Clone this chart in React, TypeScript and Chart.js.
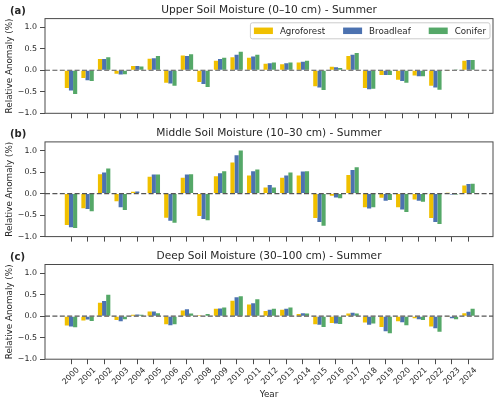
import React, { useEffect, useRef } from 'react';
import { Chart, registerables } from 'chart.js';

Chart.register(...registerables);

// ---- data -------------------------------------------------------------
const years = [
  2000, 2001, 2002, 2003, 2004, 2005, 2006, 2007, 2008, 2009, 2010, 2011, 2012,
  2013, 2014, 2015, 2016, 2017, 2018, 2019, 2020, 2021, 2022, 2023, 2024,
];
const seriesNames = ['Agroforest', 'Broadleaf', 'Conifer'];
const seriesColors = ['#F0C000', '#4C72B0', '#55A868'];
const yTickValues = [-1.0, -0.5, 0.0, 0.5, 1.0];

const upperAgroforest = [-0.41, -0.18, 0.26, -0.08, 0.10, 0.27, -0.29, 0.34, -0.27, 0.22, 0.30, 0.29, 0.15, 0.14, 0.18, -0.37, 0.08, 0.33, -0.41, -0.11, -0.22, -0.12, -0.36, -0.02, 0.22];
const upperBroadleaf = [-0.47, -0.23, 0.26, -0.10, 0.10, 0.28, -0.31, 0.33, -0.32, 0.26, 0.36, 0.32, 0.16, 0.16, 0.20, -0.40, 0.07, 0.36, -0.44, -0.11, -0.25, -0.14, -0.40, 0.01, 0.24];
const upperConifer = [-0.55, -0.25, 0.30, -0.09, 0.09, 0.33, -0.36, 0.37, -0.39, 0.29, 0.43, 0.36, 0.18, 0.18, 0.22, -0.46, 0.05, 0.40, -0.43, -0.11, -0.29, -0.14, -0.45, 0.02, 0.24];

const middleAgroforest = [-0.73, -0.34, 0.45, -0.18, 0.04, 0.39, -0.56, 0.37, -0.52, 0.40, 0.72, 0.42, 0.14, 0.37, 0.42, -0.57, -0.05, 0.43, -0.32, -0.10, -0.32, -0.14, -0.57, 0.02, 0.19];
const middleBroadleaf = [-0.78, -0.36, 0.49, -0.32, 0.05, 0.44, -0.63, 0.44, -0.59, 0.47, 0.89, 0.52, 0.20, 0.42, 0.51, -0.66, -0.09, 0.55, -0.35, -0.17, -0.37, -0.17, -0.66, -0.02, 0.22];
const middleConifer = [-0.80, -0.41, 0.58, -0.38, 0.01, 0.44, -0.68, 0.45, -0.62, 0.52, 1.00, 0.56, 0.14, 0.49, 0.52, -0.75, -0.11, 0.61, -0.32, -0.15, -0.43, -0.19, -0.71, -0.02, 0.23];

const deepAgroforest = [-0.22, -0.10, 0.31, -0.09, 0.03, 0.11, -0.19, 0.13, 0.02, 0.17, 0.36, 0.27, 0.12, 0.15, 0.05, -0.19, -0.16, 0.06, -0.15, -0.25, -0.12, -0.05, -0.24, -0.01, 0.07];
const deepBroadleaf = [-0.24, -0.08, 0.35, -0.12, 0.04, 0.11, -0.21, 0.16, 0.01, 0.18, 0.44, 0.30, 0.15, 0.17, 0.07, -0.20, -0.17, 0.08, -0.20, -0.35, -0.14, -0.07, -0.28, -0.05, 0.10];
const deepConifer = [-0.26, -0.11, 0.50, -0.07, 0.03, 0.07, -0.19, 0.06, 0.05, 0.20, 0.46, 0.39, 0.17, 0.20, 0.06, -0.25, -0.18, 0.06, -0.17, -0.40, -0.21, -0.09, -0.36, -0.07, 0.17];

// ---- layout -----------------------------------------------------------
const FONT = '"DejaVu Sans", sans-serif';
const TEXT = '#262626';
const AXIS = '#4a4a4a';
const PLOT_LEFT = 45;
const PLOT_RIGHT = 493;
const PLOT_H = 94.7;
const X_MIN = 1998.43;
const X_MAX = 2025.48;

type PanelSpec = {
  tag: string;
  title: string;
  top: number;
  height: number;
  plotTop: number;
  series: number[][];
  showYears: boolean;
  showLegend: boolean;
};

const panels: PanelSpec[] = [
  {
    tag: '(a)',
    title: 'Upper Soil Moisture (0\u201310 cm) - Summer',
    top: 0,
    height: 123,
    plotTop: 18.6,
    series: [upperAgroforest, upperBroadleaf, upperConifer],
    showYears: false,
    showLegend: true,
  },
  {
    tag: '(b)',
    title: 'Middle Soil Moisture (10\u201330 cm) - Summer',
    top: 123,
    height: 123,
    plotTop: 141.9,
    series: [middleAgroforest, middleBroadleaf, middleConifer],
    showYears: false,
    showLegend: false,
  },
  {
    tag: '(c)',
    title: 'Deep Soil Moisture (30\u2013100 cm) - Summer',
    top: 246,
    height: 158,
    plotTop: 264.5,
    series: [deepAgroforest, deepBroadleaf, deepConifer],
    showYears: true,
    showLegend: false,
  },
];

const fmtY = (v: number) => (v < 0 ? '\u2212' : '') + Math.abs(v).toFixed(1);

// Frame, dashed zero line, panel title/tag and the inline legend.
const panelDecor = {
  id: 'panelDecor',
  afterDatasetsDraw(chart: any, _args: any, opts: any) {
    const { ctx, chartArea: a, scales } = chart;
    const y0 = scales.y.getPixelForValue(0);
    ctx.save();

    ctx.strokeStyle = '#555555';
    ctx.lineWidth = 1.2;
    ctx.setLineDash([5, 2.4]);
    ctx.beginPath();
    ctx.moveTo(a.left, y0);
    ctx.lineTo(a.right, y0);
    ctx.stroke();
    ctx.setLineDash([]);

    ctx.strokeStyle = AXIS;
    ctx.lineWidth = 1;
    ctx.strokeRect(a.left, a.top, a.right - a.left, a.bottom - a.top);

    ctx.fillStyle = TEXT;
    ctx.textBaseline = 'middle';
    ctx.textAlign = 'center';
    ctx.font = `10.6px ${FONT}`;
    ctx.fillText(opts.title, (a.left + a.right) / 2, a.top - 8.6);
    ctx.textAlign = 'left';
    ctx.font = `bold 10px ${FONT}`;
    ctx.fillText(opts.tag, 10, a.top - 7);

    if (opts.legend) {
      const fs = 8.7;
      ctx.font = `${fs}px ${FONT}`;
      const patchW = 19;
      const patchH = 6.5;
      const textGap = 7;
      const colGap = 18;
      const items = chart.data.datasets.map((d: any) => ({
        label: d.label,
        color: d.backgroundColor,
        w: ctx.measureText(d.label).width,
      }));
      const total =
        items.reduce((s: number, it: any) => s + patchW + textGap + it.w, 0) +
        colGap * (items.length - 1);
      const boxRight = a.right - 3;
      const startX = boxRight - 4 - total;
      const cy = a.top + 12.2;
      const bx = startX - 3.5;
      const by = cy - 8;
      const bw = boxRight - bx;
      const bh = 16;
      ctx.beginPath();
      ctx.roundRect(bx, by, bw, bh, 2);
      ctx.fillStyle = 'rgba(255,255,255,0.85)';
      ctx.fill();
      ctx.strokeStyle = '#cccccc';
      ctx.lineWidth = 1;
      ctx.stroke();
      let x = startX;
      items.forEach((it: any) => {
        ctx.fillStyle = it.color;
        ctx.fillRect(x, cy - patchH / 2, patchW, patchH);
        ctx.fillStyle = TEXT;
        ctx.textAlign = 'left';
        ctx.fillText(it.label, x + patchW + textGap, cy + 0.5);
        x += patchW + textGap + it.w + colGap;
      });
    }
    ctx.restore();
  },
};

function Panel({ spec }: { spec: PanelSpec }) {
  const ref = useRef<HTMLCanvasElement | null>(null);

  useEffect(() => {
    const canvas = ref.current;
    if (!canvas) return;
    const padTop = spec.plotTop - spec.top;
    const xHeight = spec.height - padTop - PLOT_H;

    const chart = new Chart(canvas, {
      type: 'bar',
      data: {
        datasets: spec.series.map((vals, k) => ({
          label: seriesNames[k],
          backgroundColor: seriesColors[k],
          borderWidth: 0,
          data: years.map((yr, i) => ({ x: yr, y: vals[i] })),
          categoryPercentage: 0.75,
          barPercentage: 1.0,
        })),
      },
      options: {
        responsive: false,
        maintainAspectRatio: false,
        devicePixelRatio: 1,
        animation: false,
        layout: { padding: { top: padTop, left: 0, right: 500 - PLOT_RIGHT, bottom: 0 } },
        plugins: {
          legend: { display: false },
          tooltip: { enabled: false },
          title: { display: false },
          panelDecor: { title: spec.title, tag: spec.tag, legend: spec.showLegend },
        } as any,
        scales: {
          x: {
            type: 'linear',
            min: X_MIN,
            max: X_MAX,
            offset: false,
            afterBuildTicks: (s: any) => {
              s.ticks = years.map((v) => ({ value: v }));
            },
            afterFit: (s: any) => {
              s.height = xHeight;
            },
            ticks: {
              display: spec.showYears,
              autoSkip: false,
              minRotation: 45,
              maxRotation: 45,
              padding: 1.5,
              labelOffset: 7,
              color: TEXT,
              font: { family: FONT, size: 7.9 },
              callback: (v: any) => String(v),
            },
            grid: {
              display: true,
              drawOnChartArea: false,
              drawTicks: true,
              offset: false,
              tickLength: 5,
              tickColor: AXIS,
              tickWidth: 1,
            },
            border: { display: false },
            title: {
              display: spec.showYears,
              text: 'Year',
              color: TEXT,
              font: { family: FONT, size: 8.8 },
              padding: { top: 0, bottom: 3.7 },
            },
          },
          y: {
            type: 'linear',
            min: -1,
            max: 1.2,
            afterBuildTicks: (s: any) => {
              s.ticks = yTickValues.map((v) => ({ value: v }));
            },
            afterFit: (s: any) => {
              s.width = PLOT_LEFT;
            },
            ticks: {
              padding: 3,
              color: TEXT,
              font: { family: FONT, size: 7.9 },
              callback: (v: any) => fmtY(Number(v)),
            },
            grid: {
              display: true,
              drawOnChartArea: false,
              drawTicks: true,
              tickLength: 5,
              tickColor: AXIS,
              tickWidth: 1,
            },
            border: { display: false },
            title: {
              display: true,
              text: 'Relative Anomaly (%)',
              color: TEXT,
              font: { family: FONT, size: 8.8 },
              padding: { top: 4, bottom: 0 },
            },
          },
        },
      } as any,
      plugins: [panelDecor],
    });

    return () => chart.destroy();
  }, [spec]);

  return (
    <canvas
      ref={ref}
      width={500}
      height={spec.height}
      style={{ position: 'absolute', left: 0, top: spec.top, width: 500, height: spec.height }}
    />
  );
}

export default function App() {
  return (
    <div
      style={{
        position: 'absolute',
        left: 0,
        top: 0,
        width: 500,
        height: 404,
        background: '#ffffff',
        overflow: 'hidden',
      }}
    >
      {panels.map((p) => (
        <Panel key={p.tag} spec={p} />
      ))}
    </div>
  );
}
